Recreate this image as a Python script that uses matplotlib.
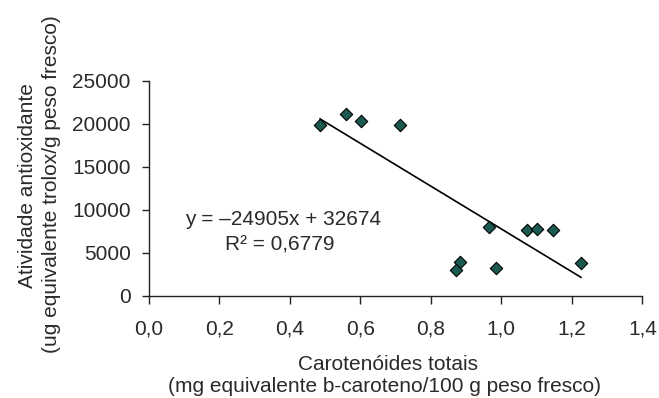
import numpy as np
import matplotlib.pyplot as plt

plt.rcParams['font.family'] = ['Liberation Sans', 'DejaVu Sans']

# carotenoids (mg b-carotene/100 g) vs antioxidant activity (ug trolox/g)
carotenoides = [0.486, 0.559, 0.601, 0.714, 0.965, 1.074, 1.102, 1.147, 0.883, 0.872, 0.984, 1.226]
atividade = [19850, 21130, 20350, 19810, 7990, 7640, 7790, 7640, 3880, 2990, 3260, 3840]

# trend line reported on the chart
slope = -24905
intercept = 32674
r2_text = "0,6779"

x_ticks = [0.0, 0.2, 0.4, 0.6, 0.8, 1.0, 1.2, 1.4]
x_tick_labels = ["0,0", "0,2", "0,4", "0,6", "0,8", "1,0", "1,2", "1,4"]
y_ticks = [0, 5000, 10000, 15000, 20000, 25000]

txt_color = '#2a2a2a'
fs = 15

fig = plt.figure(figsize=(6.59, 3.98), dpi=100)
ax = fig.add_axes([0.2256, 0.257, 0.7491, 0.540])

ax.scatter(carotenoides, atividade, marker='D', s=40, color='#1b5a50',
           edgecolors='black', linewidths=0.8, zorder=3)

xl = np.array([min(carotenoides), max(carotenoides)])
ax.plot(xl, slope * xl + intercept, color='black', lw=1.2, zorder=2)

ax.set_xlim(0, 1.4)
ax.set_ylim(0, 25000)
ax.set_xticks(x_ticks)
ax.set_xticklabels(x_tick_labels)
ax.set_yticks(y_ticks)
for s in ['top', 'right']:
    ax.spines[s].set_visible(False)
for s in ['left', 'bottom']:
    ax.spines[s].set_linewidth(1.0)
    ax.spines[s].set_color('#222222')
ax.tick_params(direction='out', width=1.0, color='#222222',
               labelsize=fs, labelcolor=txt_color)
ax.tick_params(axis='x', length=5.8, pad=11)
ax.tick_params(axis='y', length=5.0, pad=8)

ax.text(0.103, 8221, "y = \u201324905x + 32674", fontsize=fs, color=txt_color,
        ha='left', va='baseline')
ax.text(0.216, 5314, "R\u00b2 = " + r2_text, fontsize=fs, color=txt_color,
        ha='left', va='baseline')

fig.text(388 / 659, 1 - 365 / 398, "Carotenóides totais", fontsize=fs,
         color=txt_color, ha='center', va='center')
fig.text(385 / 659, 1 - 386 / 398, "(mg equivalente b-caroteno/100 g peso fresco)",
         fontsize=fs, color=txt_color, ha='center', va='center')
fig.text(28 / 659, 1 - 186 / 398, "Atividade antioxidante", fontsize=fs,
         color=txt_color, ha='center', va='center', rotation=90)
fig.text(52 / 659, 1 - 184 / 398, "(ug equivalente trolox/g peso fresco)",
         fontsize=fs, color=txt_color, ha='center', va='center', rotation=90)

fig.savefig("out.png", dpi=100)
